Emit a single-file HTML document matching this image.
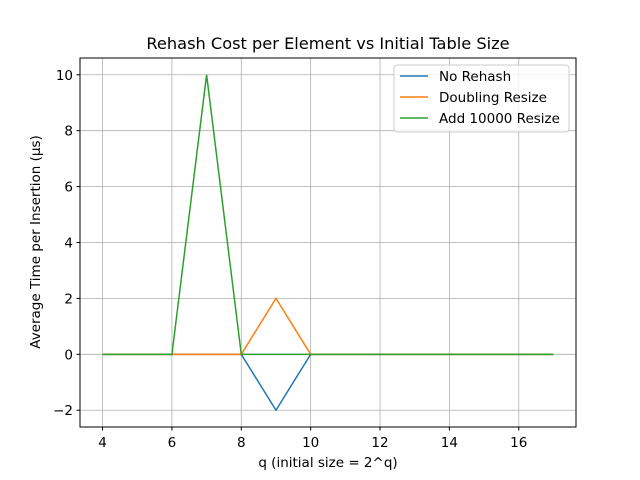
<!DOCTYPE html>
<html><head><meta charset="utf-8"><style>
body{margin:0;background:#fff}
svg{display:block;font-family:"DejaVu Sans","Liberation Sans",sans-serif}
</style></head><body>
<svg id="c" width="640" height="480">
<rect width="640" height="480" fill="#fff"/>
<text x="328" y="49" text-anchor="middle" font-size="16.2">Rehash Cost per Element vs Initial Table Size</text>
<g id="grid"></g><g id="ticks"></g><g id="lines"></g>
<rect x="80" y="58" width="496" height="369" fill="none" stroke="#000" stroke-width="1"/>
<text x="328" y="467" text-anchor="middle" font-size="13.5">q (initial size = 2^q)</text>
<text transform="translate(40,242) rotate(-90)" text-anchor="middle" font-size="13.5">Average Time per Insertion (µs)</text>
<g>
<rect x="394" y="65" width="175" height="67" rx="3" fill="#fff" fill-opacity="0.8" stroke="#ccc"/>
<g id="leg"></g>
</g>
</svg>
<script>
const qValues=[4,5,6,7,8,9,10,11,12,13,14,15,16,17];
const noRehash=[0,0,0,0,0,-2,0,0,0,0,0,0,0,0];
const doubling=[0,0,0,0,0,2,0,0,0,0,0,0,0,0];
const add10000=[0,0,0,10,0,0,0,0,0,0,0,0,0,0];
const seriesNames=["No Rehash","Doubling Resize","Add 10000 Resize"];
const xTicks=[4,6,8,10,12,14,16];
const yTicks=[-2,0,2,4,6,8,10];
const colors=["#1f77b4","#ff7f0e","#2ca02c"];
const X0=80,X1=576,Y0=58,Y1=427,xmin=3.35,xmax=17.65,ymin=-2.6,ymax=10.6;
const sx=v=>X0+(v-xmin)/(xmax-xmin)*(X1-X0);
const sy=v=>Y1-(v-ymin)/(ymax-ymin)*(Y1-Y0);
const NS="http://www.w3.org/2000/svg";
function mk(t,a,p){const e=document.createElementNS(NS,t);for(const k in a)e.setAttribute(k,a[k]);p.appendChild(e);return e;}
const grid=document.getElementById('grid'),ticks=document.getElementById('ticks'),lines=document.getElementById('lines'),leg=document.getElementById('leg');
xTicks.forEach(v=>{const x=sx(v);
const g=mk('line',{x1:x,x2:x,y1:Y0,y2:Y1,stroke:'#b0b0b0','stroke-width':0.8},grid);


mk('line',{x1:x,x2:x,y1:Y1,y2:Y1+3.5,stroke:'#000'},ticks);
const t=mk('text',{x:x,y:Y1+20,'text-anchor':'middle','font-size':13.5},ticks);t.textContent=v;

});
yTicks.forEach(v=>{const y=sy(v);
const g=mk('line',{x1:X0,x2:X1,y1:y,y2:y,stroke:'#b0b0b0','stroke-width':0.8},grid);


mk('line',{x1:X0-3.5,x2:X0,y1:y,y2:y,stroke:'#000'},ticks);
const t=mk('text',{x:X0-7,y:y+5,'text-anchor':'end','font-size':13.5},ticks);t.textContent=v<0?'\u2212'+(-v):v;

});
[noRehash,doubling,add10000].forEach((s,i)=>{
const p=mk('polyline',{points:s.map((v,j)=>sx(qValues[j])+','+sy(v)).join(' '),fill:'none',stroke:colors[i],'stroke-width':1.5},lines);


const y=76+i*21;
mk('line',{x1:400,x2:428,y1:y,y2:y,stroke:colors[i],'stroke-width':1.5},leg);
const t=mk('text',{x:439,y:y+5,'font-size':13.5},leg);t.textContent=seriesNames[i];

});
</script>
</body></html>
